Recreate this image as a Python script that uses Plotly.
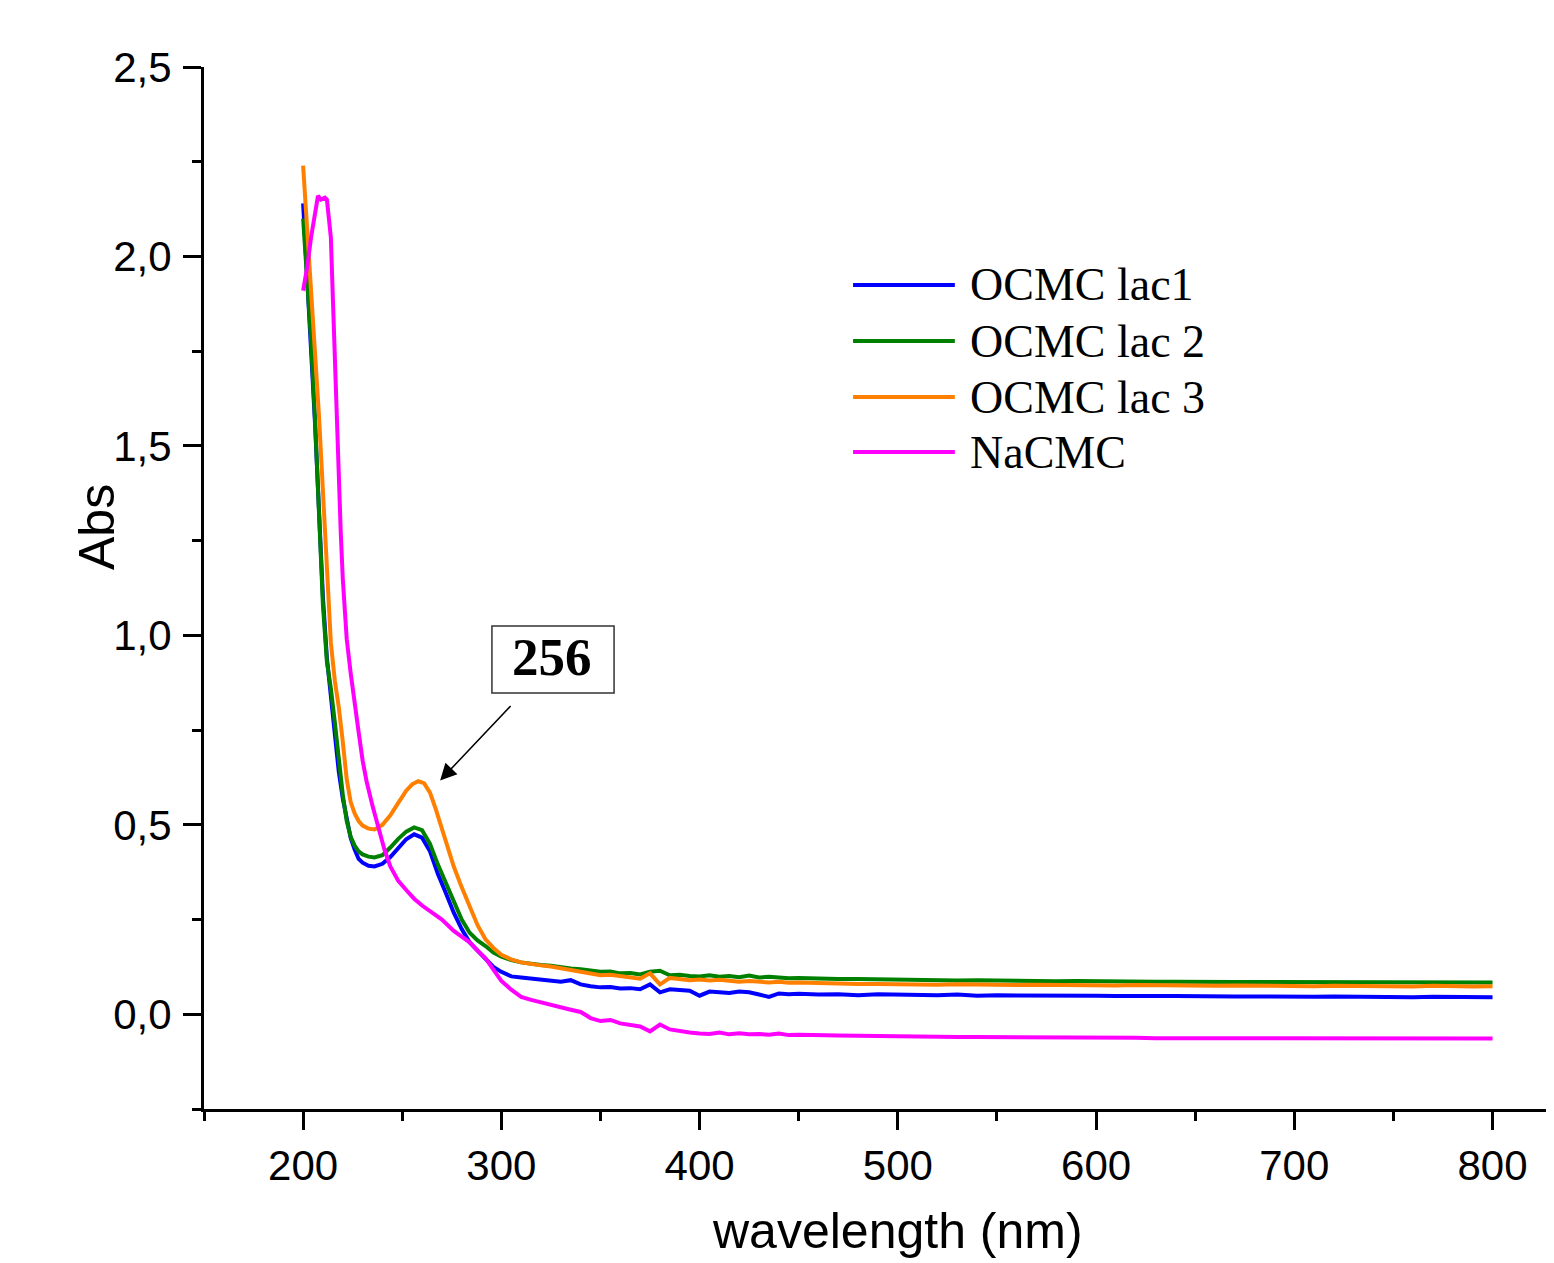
import plotly.graph_objects as go

# UV-vis spectra: absorbance vs wavelength (nm)

# --- steep region + 256 nm band ---
wl_lac1_head = [200, 202, 204, 206, 208, 210, 212, 214, 216, 218, 220, 222, 224, 226, 228, 230,
                233, 236, 240, 244, 248, 252, 256, 260, 264, 268, 272, 276, 280, 284, 288, 292, 296]
abs_lac1_head = [2.14, 1.95, 1.78, 1.56, 1.33, 1.10, 0.94, 0.84, 0.74, 0.64, 0.57, 0.51, 0.465, 0.435, 0.41, 0.40,
                 0.392, 0.39, 0.397, 0.415, 0.44, 0.462, 0.475, 0.466, 0.43, 0.37, 0.32, 0.268, 0.225, 0.19, 0.168, 0.145, 0.125]

wl_lac2_head = [200, 202, 204, 206, 208, 210, 212, 214, 216, 218, 220, 222, 224, 226, 228, 230,
                233, 236, 240, 244, 248, 252, 256, 260, 264, 268, 272, 276, 280, 284, 288, 292, 296]
abs_lac2_head = [2.10, 1.94, 1.78, 1.57, 1.33, 1.08, 0.93, 0.86, 0.77, 0.67, 0.58, 0.51, 0.468, 0.445, 0.43, 0.422,
                 0.416, 0.414, 0.42, 0.44, 0.463, 0.482, 0.493, 0.486, 0.45, 0.395, 0.348, 0.295, 0.25, 0.215, 0.195, 0.18, 0.163]

wl_lac3_head = [200, 202, 204, 206, 208, 210, 212, 214, 216, 218, 220, 222, 224, 226, 228, 230,
                233, 236, 240, 244, 248, 252, 255, 258, 261, 264, 267, 270, 273, 276, 280, 284, 288, 292, 296]
abs_lac3_head = [2.24, 2.08, 1.92, 1.76, 1.58, 1.38, 1.17, 0.98, 0.88, 0.81, 0.72, 0.62, 0.56, 0.53, 0.51, 0.498,
                 0.49, 0.488, 0.50, 0.525, 0.558, 0.59, 0.607, 0.615, 0.61, 0.585, 0.54, 0.49, 0.44, 0.39, 0.335,
                 0.285, 0.235, 0.198, 0.175]

wl_nacmc_head = [200, 202, 204, 206, 207.5, 209, 211, 212, 213, 214, 215, 216, 217, 218, 219, 220, 221, 222,
                 224, 226, 228, 230, 232, 235, 238, 241, 244, 248, 252, 256, 260, 265, 270, 276, 280, 284, 288, 292, 296]
abs_nacmc_head = [1.91, 1.97, 2.05, 2.12, 2.16, 2.15, 2.155, 2.15, 2.09, 2.05, 1.89, 1.72, 1.58, 1.42, 1.27, 1.15, 1.06, 0.99,
                  0.90, 0.83, 0.745, 0.67, 0.615, 0.55, 0.49, 0.435, 0.39, 0.352, 0.328, 0.305, 0.287, 0.27, 0.25, 0.22, 0.205,
                  0.19, 0.168, 0.148, 0.118]

# --- flat tail, shared wavelength grid ---
wl_tail = [300, 305, 310, 315, 320, 325, 330, 335, 340, 345, 350, 355, 360, 365, 370, 375, 380, 385, 390, 395,
           400, 405, 410, 415, 420, 425, 430, 435, 440, 445, 450,
           460, 470, 480, 490, 500, 510, 520, 530, 540, 550, 560, 570, 580, 590, 600, 610, 620, 630, 640, 650,
           660, 670, 680, 690, 700, 710, 720, 730, 740, 750, 760, 770, 780, 790, 800]

abs_lac1_tail = [0.112, 0.100, 0.097, 0.094, 0.092, 0.088, 0.086, 0.090, 0.079, 0.074, 0.071, 0.072, 0.068, 0.069, 0.066,
                 0.079, 0.058, 0.066, 0.064, 0.062, 0.049, 0.060, 0.058, 0.056, 0.060, 0.058, 0.052, 0.046, 0.055, 0.053, 0.054,
                 0.052, 0.053, 0.050, 0.053, 0.052, 0.051, 0.050, 0.052, 0.049, 0.050, 0.050, 0.049, 0.051, 0.049, 0.049,
                 0.048, 0.049, 0.048, 0.048, 0.047, 0.048, 0.047, 0.047, 0.046, 0.047, 0.046, 0.047, 0.046, 0.045, 0.046,
                 0.045, 0.046, 0.045, 0.045, 0.045]
abs_lac2_tail = [0.152, 0.143, 0.137, 0.133, 0.130, 0.128, 0.124, 0.121, 0.119, 0.116, 0.112, 0.113, 0.108, 0.109, 0.105,
                 0.112, 0.115, 0.103, 0.104, 0.101, 0.100, 0.103, 0.099, 0.101, 0.098, 0.102, 0.097, 0.099, 0.096, 0.095, 0.096,
                 0.094, 0.093, 0.093, 0.092, 0.092, 0.090, 0.091, 0.089, 0.090, 0.089, 0.088, 0.088, 0.087, 0.088, 0.087,
                 0.086, 0.087, 0.086, 0.086, 0.085, 0.086, 0.085, 0.085, 0.085, 0.084, 0.085, 0.084, 0.084, 0.084, 0.083,
                 0.084, 0.085, 0.083, 0.083, 0.084]
abs_lac3_tail = [0.157, 0.145, 0.137, 0.132, 0.129, 0.126, 0.121, 0.116, 0.111, 0.107, 0.103, 0.104, 0.101, 0.099, 0.094,
                 0.108, 0.079, 0.096, 0.092, 0.090, 0.092, 0.089, 0.091, 0.088, 0.086, 0.088, 0.085, 0.084, 0.086, 0.083, 0.084,
                 0.082, 0.081, 0.080, 0.080, 0.079, 0.079, 0.078, 0.079, 0.078, 0.078, 0.077, 0.078, 0.077, 0.077, 0.077,
                 0.076, 0.077, 0.076, 0.076, 0.076, 0.075, 0.076, 0.075, 0.075, 0.075, 0.074, 0.075, 0.074, 0.074, 0.074,
                 0.073, 0.075, 0.073, 0.073, 0.074]
abs_nacmc_tail = [0.088, 0.065, 0.046, 0.038, 0.031, 0.024, 0.018, 0.012, 0.006, -0.010, -0.018, -0.015, -0.024, -0.028, -0.032,
                  -0.045, -0.027, -0.040, -0.045, -0.048, -0.051, -0.052, -0.048, -0.053, -0.050, -0.053, -0.052, -0.054, -0.051, -0.055, -0.054,
                  -0.056, -0.056, -0.057, -0.058, -0.058, -0.059, -0.059, -0.060, -0.060, -0.060, -0.061, -0.061, -0.061, -0.062, -0.062,
                  -0.062, -0.062, -0.063, -0.063, -0.063, -0.063, -0.063, -0.063, -0.064, -0.063, -0.064, -0.064, -0.064, -0.064, -0.064,
                  -0.064, -0.064, -0.064, -0.064, -0.064]

names = ["OCMC lac1", "OCMC lac 2", "OCMC lac 3", "NaCMC"]
colors = ["#0000FF", "#008000", "#FF8000", "#FF00FF"]
series = [
    (wl_lac1_head + wl_tail, abs_lac1_head + abs_lac1_tail),
    (wl_lac2_head + wl_tail, abs_lac2_head + abs_lac2_tail),
    (wl_lac3_head + wl_tail, abs_lac3_head + abs_lac3_tail),
    (wl_nacmc_head + wl_tail, abs_nacmc_head + abs_nacmc_tail),
]

fig = go.Figure()
for (xs, ys), nm, c in zip(series, names, colors):
    fig.add_trace(go.Scatter(x=xs, y=ys, mode="lines", name=nm,
                             line=dict(color=c, width=4), showlegend=False))

# hand-made legend (long line samples like the original)
leg_y = [0.7908, 0.737, 0.6833, 0.6305]
for nm, c, ly in zip(names, colors, leg_y):
    fig.add_shape(type="line", xref="paper", yref="paper", x0=0.4815, x1=0.557, y0=ly, y1=ly,
                  line=dict(color=c, width=4))
    fig.add_annotation(xref="paper", yref="paper", x=0.5668, y=ly, text=nm, showarrow=False,
                       xanchor="left", yanchor="middle",
                       font=dict(family="Liberation Serif", size=46, color="black"))

# peak label box + arrow
fig.add_shape(type="rect", xref="paper", yref="paper", x0=0.2136, x1=0.3042, y0=0.3992, y1=0.4635,
              line=dict(color="#333333", width=1.5))
fig.add_annotation(xref="paper", yref="paper", x=0.2582, y=0.4338, text="<b>256</b>", showarrow=False,
                   xanchor="center", yanchor="middle",
                   font=dict(family="Liberation Serif", size=53, color="black"))
fig.add_annotation(x=269.1, y=0.617, ax=305.4, ay=0.8175, axref="x", ayref="y", text="",
                   showarrow=True, arrowhead=2, arrowsize=2.2, arrowwidth=1.5, arrowcolor="black")

# axis titles
fig.add_annotation(xref="paper", yref="paper", x=-0.0794, y=0.5585, text="Abs", textangle=-90,
                   showarrow=False, xanchor="center", yanchor="middle",
                   font=dict(family="Liberation Sans", size=50, color="black"))
fig.add_annotation(xref="paper", yref="paper", x=0.5148, y=-0.117, text="wavelength (nm)",
                   showarrow=False, xanchor="center", yanchor="middle",
                   font=dict(family="Liberation Sans", size=50, color="black"))

# page body has an 8px margin, so the figure is shrunk/shifted to compensate
fig.update_layout(
    width=1546, height=1255,
    margin=dict(l=196, r=2, t=59, b=154),
    paper_bgcolor="white", plot_bgcolor="white",
    separators=", ",
    font=dict(family="Liberation Sans", color="black"),
)
fig.update_xaxes(range=[150, 830], tickvals=[200, 300, 400, 500, 600, 700, 800],
                 showgrid=False, zeroline=False, showline=True, linewidth=3, linecolor="black",
                 ticks="outside", ticklen=18, tickwidth=2.5, tickcolor="black", ticklabelstandoff=0,
                 tickfont=dict(family="Liberation Sans", size=42, color="black"),
                 minor=dict(dtick=50, tick0=0, ticks="outside", ticklen=9, tickwidth=2.5, tickcolor="black"))
fig.update_yaxes(range=[-0.25, 2.5], tickvals=[0, 0.5, 1.0, 1.5, 2.0, 2.5], tickformat=".1f",
                 showgrid=False, zeroline=False, showline=True, linewidth=3, linecolor="black",
                 ticks="outside", ticklen=18, tickwidth=2.5, tickcolor="black", ticklabelstandoff=3,
                 tickfont=dict(family="Liberation Sans", size=42, color="black"),
                 minor=dict(dtick=0.25, tick0=0, ticks="outside", ticklen=9, tickwidth=2.5, tickcolor="black"))

fig.write_html("out.html")
